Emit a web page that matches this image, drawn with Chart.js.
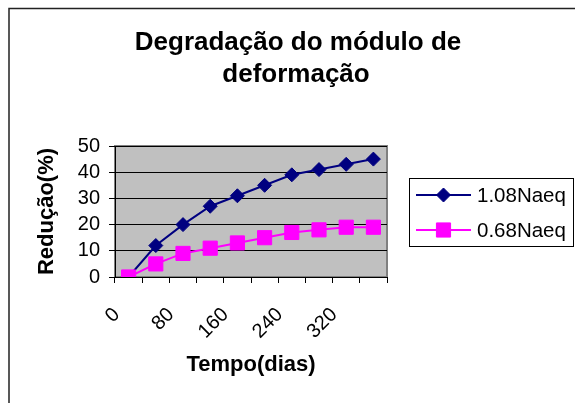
<!DOCTYPE html>
<html><head><meta charset="utf-8">
<script src="https://cdn.jsdelivr.net/npm/chart.js@4"></script>
<style>html,body{margin:0;padding:0;background:#fff}#wrap{width:575px;height:403px;position:relative}</style>
</head><body><div id="wrap"><canvas id="c" width="575" height="403"></canvas></div>
<script>
const categories = ['0','40','80','120','160','200','240','280','320','360'];
const series1Label = '1.08Naeq';
const series1 = [0, 12, 20, 27, 31, 35, 39, 41, 43, 45];
const series2Label = '0.68Naeq';
const series2 = [0, 5, 9, 11, 13, 15, 17, 18, 19, 19];
const yMin = 0, yMax = 50, yStep = 10;
const titleLines = ['Degradação do módulo de', 'deformação'];
const xTitle = 'Tempo(dias)';
const yTitle = 'Redução(%)';

const FONT = '"Liberation Sans", Arial, sans-serif';

const decor = {
  id: 'decor',
  beforeDraw(chart) {
    const {ctx, chartArea: a} = chart;
    ctx.save();
    ctx.fillStyle = '#fff';
    ctx.fillRect(0, 0, chart.width, chart.height);
    // outer frame
    ctx.strokeStyle = '#222';
    ctx.lineWidth = 1.5;
    ctx.beginPath();
    ctx.moveTo(9, chart.height);
    ctx.lineTo(9, 8.5);
    ctx.lineTo(chart.width, 8.5);
    ctx.stroke();
    // plot background
    ctx.fillStyle = '#C0C0C0';
    ctx.fillRect(a.left, a.top, a.right - a.left, a.bottom - a.top);
    ctx.strokeStyle = '#808080';
    ctx.lineWidth = 2;
    ctx.strokeRect(a.left, a.top, a.right - a.left, a.bottom - a.top);
    // title
    ctx.fillStyle = '#000';
    ctx.font = 'bold 26px ' + FONT;
    ctx.textAlign = 'center';
    ctx.textBaseline = 'alphabetic';
    ctx.fillText(titleLines[0], 298, 50);
    ctx.fillText(titleLines[1], 296, 82);
    ctx.restore();
  },
  afterDraw(chart) {
    const {ctx} = chart;
    ctx.save();
    const bx = 409.5, by = 178.5, bw = 164, bh = 68;
    ctx.fillStyle = '#fff';
    ctx.fillRect(bx, by, bw, bh);
    ctx.strokeStyle = '#000';
    ctx.lineWidth = 1;
    ctx.strokeRect(bx, by, bw, bh);
    const rows = [195, 230];
    chart.data.datasets.forEach((ds, i) => {
      const y = rows[i];
      ctx.strokeStyle = ds.borderColor;
      ctx.lineWidth = ds.borderWidth;
      ctx.beginPath();
      ctx.moveTo(416, y);
      ctx.lineTo(471, y);
      ctx.stroke();
      ctx.fillStyle = ds.pointBackgroundColor;
      ctx.strokeStyle = ds.pointBorderColor;
      ctx.lineWidth = 1;
      Chart.helpers.drawPoint(ctx, {pointStyle: ds.pointStyle, radius: ds.pointRadius, borderWidth: 1}, 443.5, y);
      ctx.fillStyle = '#000';
      ctx.font = '20.5px ' + FONT;
      ctx.textAlign = 'left';
      ctx.textBaseline = 'middle';
      ctx.fillText(ds.label, 477, y + 1);
    });
    ctx.restore();
  }
};

new Chart(document.getElementById('c'), {
  type: 'line',
  data: {
    labels: categories,
    datasets: [
      {
        label: series1Label, data: series1, order: 1,
        borderColor: '#000080', backgroundColor: '#000080', borderWidth: 2,
        pointStyle: 'rectRot', pointRadius: 7, pointBackgroundColor: '#000080', pointBorderColor: '#000080',
        pointBorderWidth: 1, tension: 0
      },
      {
        label: series2Label, data: series2, order: 0,
        borderColor: '#FF00FF', backgroundColor: '#FF00FF', borderWidth: 2,
        pointStyle: 'rect', pointRadius: 10, pointBackgroundColor: '#FF00FF', pointBorderColor: '#FF00FF',
        pointBorderWidth: 1, tension: 0
      }
    ]
  },
  options: {
    responsive: false,
    animation: false,
    devicePixelRatio: 1,
    layout: {padding: {left: 30, top: 146, right: 188, bottom: 0}},
    plugins: {legend: {display: false}, title: {display: false}, tooltip: {enabled: false}},
    scales: {
      x: {
        offset: true,
        grid: {offset: true, drawOnChartArea: false, drawTicks: true, tickLength: 6, color: '#000', lineWidth: 1},
        border: {color: '#000', width: 1},
        ticks: {
          color: '#000', font: {family: FONT, size: 20}, minRotation: 45, maxRotation: 45,
          autoSkip: false, padding: 20, labelOffset: -12,
          callback: function(v, i) { return i % 2 === 0 ? categories[i] : ''; }
        },
        title: {display: true, text: xTitle, color: '#000', font: {family: FONT, size: 22, weight: 'bold'}, padding: {top: 0, bottom: 25}},
        afterFit(s) { s.height = 126; }
      },
      y: {
        min: yMin, max: yMax,
        grid: {color: '#000', lineWidth: 1, tickLength: 6, drawTicks: true},
        border: {color: '#000', width: 1},
        ticks: {stepSize: yStep, autoSkip: false, color: '#000', font: {family: FONT, size: 20}, padding: 9},
        title: {display: true, text: yTitle, color: '#000', font: {family: FONT, size: 22, weight: 'bold'}, padding: {top: 4, bottom: 0}},
        afterFit(s) { s.width = 85; }
      }
    }
  },
  plugins: [decor]
});
</script>
</body></html>
